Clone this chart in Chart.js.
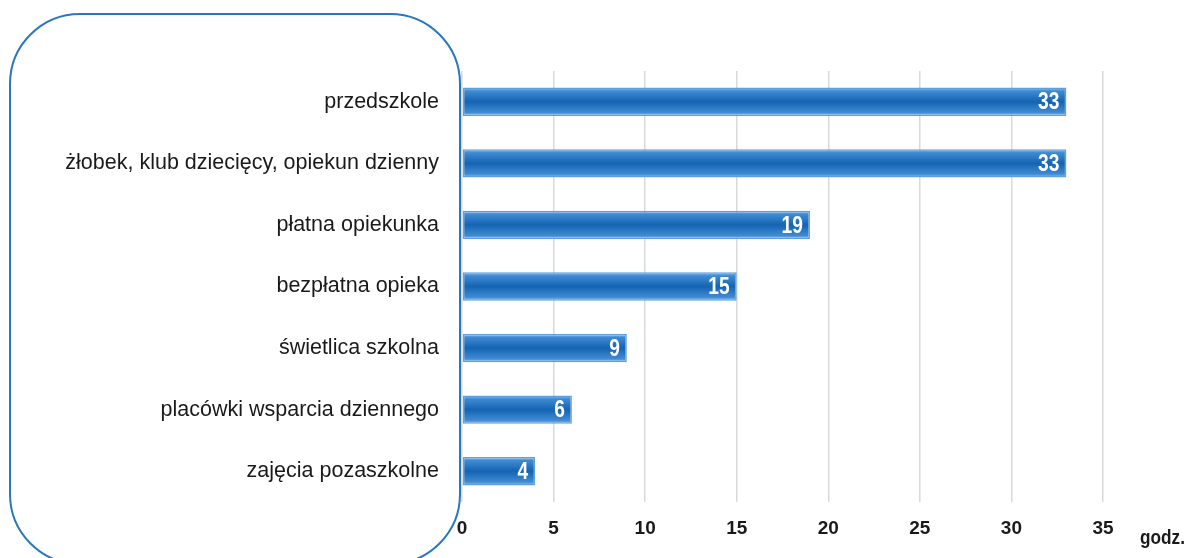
<!DOCTYPE html>
<html>
<head>
<meta charset="utf-8">
<script src="https://cdn.jsdelivr.net/npm/chart.js@4"></script>
<style>
  html, body { margin: 0; padding: 0; background: #fff; }
  .grafico { position: relative; width: 1193px; height: 558px; }
</style>
</head>
<body>
<div class="grafico"><canvas id="myChart"></canvas></div>
<script>
const kategorie = [
  "przedszkole",
  "żłobek, klub dziecięcy, opiekun dzienny",
  "płatna opiekunka",
  "bezpłatna opieka",
  "świetlica szkolna",
  "placówki wsparcia dziennego",
  "zajęcia pozaszkolne"
]
const godziny = [33, 33, 19, 15, 9, 6, 4]
const osX = [0, 5, 10, 15, 20, 25, 30, 35]
const jednostka = "godz."

const font = "'Liberation Sans', Arial, sans-serif"

// ramka z zaokraglonymi rogami po lewej
const ramka = {
  id: "ramka",
  beforeDraw(chart) {
    const ctx = chart.ctx
    ctx.save()
    ctx.strokeStyle = "#2a77c0"
    ctx.lineWidth = 2
    ctx.beginPath()
    ctx.roundRect(10, 14, 450, 550, 70)
    ctx.stroke()
    ctx.restore()
  }
}

// tekst zwezony (jak Arial Narrow)
function waskiTekst(ctx, txt, x, y, sx) {
  ctx.save()
  ctx.translate(x, y)
  ctx.scale(sx, 1)
  ctx.fillText(txt, 0, 0)
  ctx.restore()
}

// etykiety wartosci + jednostka osi
const etykiety = {
  id: "etykiety",
  afterDatasetsDraw(chart) {
    const ctx = chart.ctx
    const meta = chart.getDatasetMeta(0)
    ctx.save()
    ctx.fillStyle = "#fff"
    ctx.font = "bold 24px " + font
    ctx.textAlign = "right"
    ctx.textBaseline = "middle"
    meta.data.forEach((bar, i) => {
      waskiTekst(ctx, String(godziny[i]), bar.x - 7, bar.y + 1, 0.8)
    })
    const x = chart.scales.x
    ctx.fillStyle = "#1a1a1a"
    ctx.font = "bold 21px " + font
    ctx.textAlign = "left"
    waskiTekst(ctx, jednostka, x.right + 37, x.bottom - 20, 0.82)
    ctx.restore()
  }
}

function gradient(context) {
  const chart = context.chart
  const { ctx, chartArea } = chart
  if (!chartArea) return "#1f6fbf"
  const y = chart.scales.y.getPixelForValue(context.dataIndex)
  const h = 14
  const g = ctx.createLinearGradient(0, y - h, 0, y + h)
  g.addColorStop(0, "#8cc2ee")
  g.addColorStop(0.12, "#3f8ad2")
  g.addColorStop(0.3, "#2b78c4")
  g.addColorStop(0.5, "#1464b2")
  g.addColorStop(0.7, "#2b78c4")
  g.addColorStop(0.88, "#3f8ad2")
  g.addColorStop(1, "#8cc2ee")
  return g
}

const config = {
  type: "bar",
  data: {
    labels: kategorie,
    datasets: [{
      data: godziny,
      backgroundColor: gradient,
      borderColor: "#5e9fdc",
      borderWidth: 1.5,
      borderSkipped: false,
      barPercentage: 0.46,
      categoryPercentage: 1
    }]
  },
  options: {
    indexAxis: "y",
    responsive: true,
    maintainAspectRatio: false,
    animation: false,
    layout: { padding: { top: 71, right: 90, bottom: 0, left: 0 } },
    plugins: { legend: { display: false }, tooltip: { enabled: false } },
    scales: {
      x: {
        min: 0,
        max: 35,
        afterBuildTicks(scale) { scale.ticks = osX.map(v => ({ value: v })) },
        afterFit(scale) { scale.height = 56 },
        grid: { color: "#d9d9d9", lineWidth: 1.5, drawTicks: false },
        border: { display: false },
        ticks: {
          padding: 15,
          color: "#1a1a1a",
          font: { family: font, size: 19, weight: "bold" }
        }
      },
      y: {
        afterFit(scale) { scale.width = 462 },
        grid: { display: false, drawTicks: false },
        border: { display: false },
        ticks: {
          padding: 23,
          color: "#1a1a1a",
          font: { family: font, size: 21.5 }
        }
      }
    }
  },
  plugins: [ramka, etykiety]
}

new Chart(document.querySelector("#myChart"), config)
</script>
</body>
</html>
